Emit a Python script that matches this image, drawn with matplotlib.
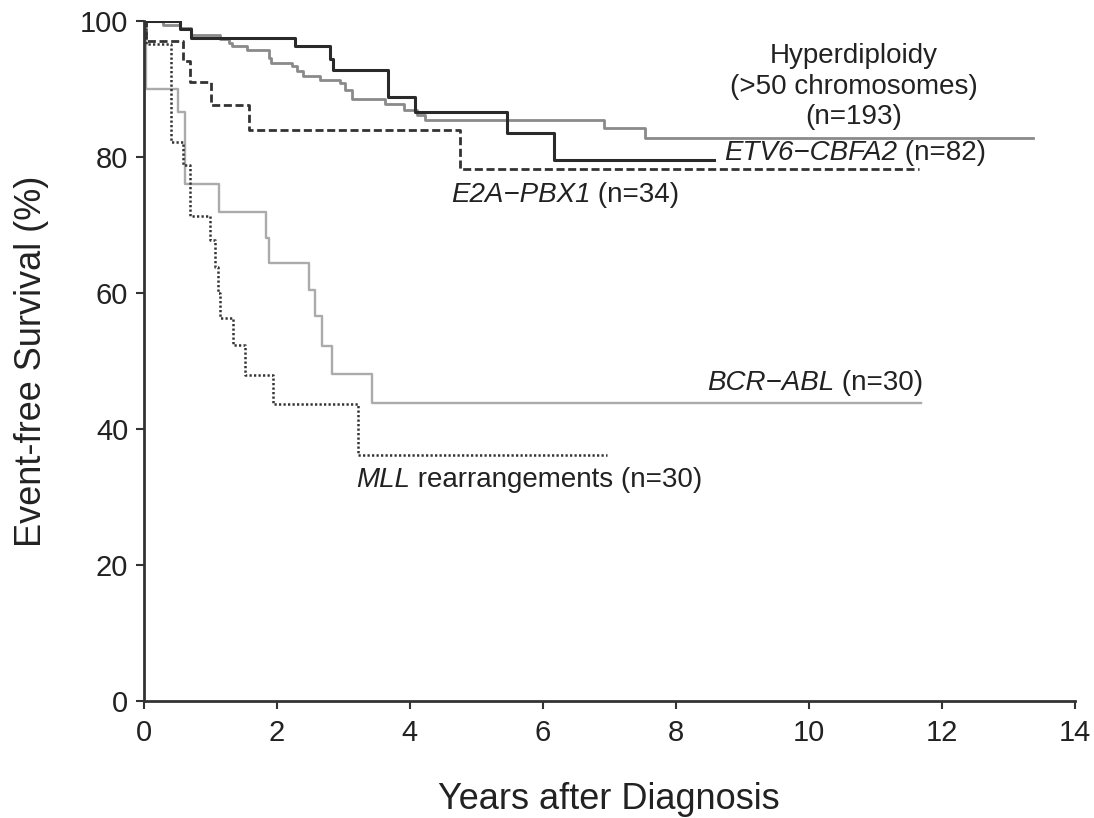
import matplotlib
matplotlib.use("Agg")
import matplotlib.pyplot as plt
from matplotlib.transforms import ScaledTranslation

plt.rcParams['font.family'] = ['Liberation Sans', 'DejaVu Sans']

# Hyperdiploidy (>50 chromosomes), n=193
hyper_t = [0, 0.30, 0.55, 0.72, 1.15, 1.28, 1.33, 1.55, 1.88, 1.92, 2.23, 2.30, 2.40,
           2.65, 2.95, 3.03, 3.13, 3.63, 3.91, 4.11, 4.23, 6.92, 7.54]
hyper_s = [100, 99.5, 99.0, 98.0, 97.4, 96.8, 96.3, 95.8, 94.6, 93.9, 93.4, 92.7, 91.9,
           91.4, 90.9, 89.9, 88.5, 87.9, 87.0, 86.2, 85.5, 84.3, 82.8]
hyper_end = 13.37

# ETV6-CBFA2, n=82
etv6_t = [0, 0.55, 0.72, 2.28, 2.80, 2.85, 3.68, 4.08, 5.46, 6.17]
etv6_s = [100, 98.8, 97.6, 96.3, 94.4, 92.9, 88.8, 86.6, 83.6, 79.6]
etv6_end = 8.57

# E2A-PBX1, n=34
e2a_t = [0, 0.04, 0.60, 0.70, 1.02, 1.58, 4.76]
e2a_s = [100, 97.1, 94.1, 91.0, 87.7, 84.0, 78.3]
e2a_end = 11.66

# BCR-ABL, n=30
bcr_t = [0, 0.04, 0.52, 0.63, 1.14, 1.84, 1.88, 2.48, 2.58, 2.68, 2.84, 3.43]
bcr_s = [100, 90.0, 86.7, 76.0, 72.0, 68.1, 64.4, 60.5, 56.6, 52.2, 48.2, 43.9]
bcr_end = 11.68

# MLL rearrangements, n=30
mll_t = [0, 0.04, 0.42, 0.60, 0.70, 1.00, 1.08, 1.12, 1.15, 1.35, 1.52, 1.95, 3.22]
mll_s = [100, 96.7, 82.3, 78.9, 71.3, 67.8, 63.9, 60.0, 56.3, 52.4, 48.0, 43.7, 36.2]
mll_end = 6.97

x_ticks = [0, 2, 4, 6, 8, 10, 12, 14]
y_ticks = [0, 20, 40, 60, 80, 100]

fig = plt.figure(figsize=(10.94, 8.18), dpi=100)
ax = fig.add_axes([0.1312, 0.1427, 0.8514, 0.8313])


def km(t, s, end, **kw):
    ax.step(list(t) + [end], list(s) + [s[-1]], where='post', **kw)


km(hyper_t, hyper_s, hyper_end, color='#8a8a8a', lw=2.0, zorder=3)
km(bcr_t, bcr_s, bcr_end, color='#ababab', lw=1.7, zorder=2)
km(e2a_t, e2a_s, e2a_end, color='#333333', lw=2.0, dashes=(2.9, 1.3), zorder=4)
km(mll_t, mll_s, mll_end, color='#333333', lw=1.8, dashes=(0.9, 0.9), zorder=4)
km(etv6_t, etv6_s, etv6_end, color='#2a2a2a', lw=2.2, zorder=5)

ax.set_xlim(0, 14)
ax.set_ylim(0, 100)
ax.set_xticks(x_ticks)
ax.set_yticks(y_ticks)
ax.tick_params(direction='out', length=6, width=1.5, colors='#333333',
               labelsize=21, labelcolor='#222222')
ax.tick_params(axis='x', pad=7)
ax.tick_params(axis='y', pad=5)
for side in ['top', 'right']:
    ax.spines[side].set_visible(False)
for side in ['left', 'bottom']:
    ax.spines[side].set_linewidth(2.0)
    ax.spines[side].set_color('#333333')
    ax.spines[side].set_zorder(6)

ax.set_xlabel('Years after Diagnosis', fontsize=26, color='#222222', labelpad=25)
ax.set_ylabel('Event-free Survival (%)', fontsize=26, color='#222222', labelpad=22)

tc = '#222222'
fs = 20
renderer = fig.canvas.get_renderer()


def rich(x, y, parts, ha='left'):
    """parts: list of (string, italic?)"""
    widths = []
    for s, it in parts:
        t = ax.text(x, y, s, fontsize=fs, style='italic' if it else 'normal')
        widths.append(t.get_window_extent(renderer).width)
        t.remove()
    total = sum(widths)
    off = 0.0 if ha == 'left' else -total
    for (s, it), w in zip(parts, widths):
        tr = ax.transData + ScaledTranslation(off / fig.dpi, 0, fig.dpi_scale_trans)
        ax.text(x, y, s, fontsize=fs, color=tc, va='center', ha='left',
                style='italic' if it else 'normal', transform=tr)
        off += w


ax.text(10.67, 94.9, 'Hyperdiploidy', ha='center', va='center', fontsize=fs, color=tc)
ax.text(10.67, 90.3, '(>50 chromosomes)', ha='center', va='center', fontsize=fs, color=tc)
ax.text(10.67, 85.9, '(n=193)', ha='center', va='center', fontsize=fs, color=tc)
rich(8.72, 80.6, [('ETV6\u2212CBFA2', True), (' (n=82)', False)])
rich(4.62, 74.4, [('E2A\u2212PBX1', True), (' (n=34)', False)])
rich(11.72, 46.8, [('BCR\u2212ABL', True), (' (n=30)', False)], ha='right')
rich(3.19, 32.5, [('MLL', True), (' rearrangements (n=30)', False)])

fig.savefig('out.png', dpi=100)
